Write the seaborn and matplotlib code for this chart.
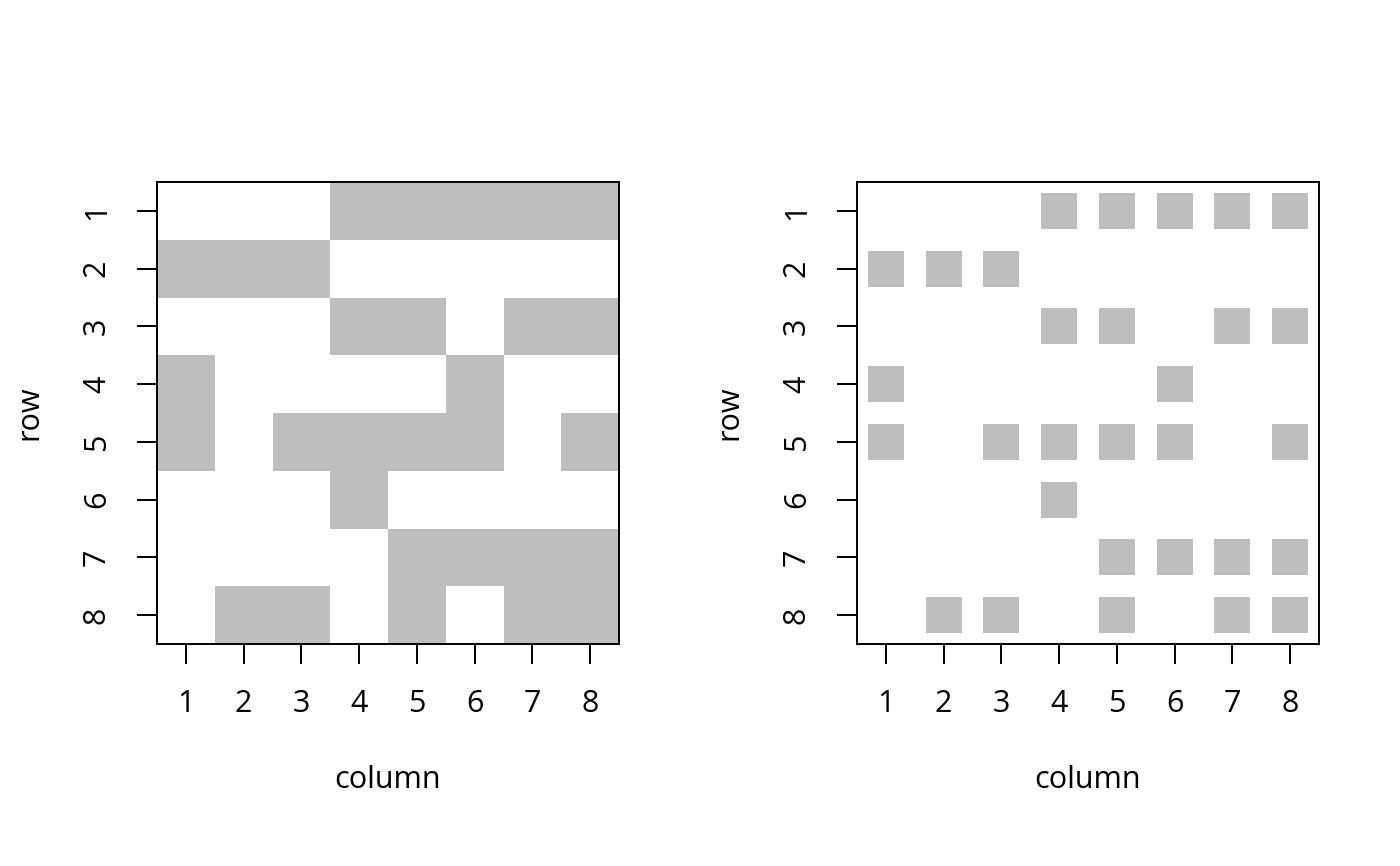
import numpy as np
import pandas as pd
import matplotlib
matplotlib.use("Agg")
import matplotlib.pyplot as plt
from matplotlib.colors import ListedColormap
import seaborn as sns

# 8x8 binary matrix, row 1 at the top
rows = [1, 2, 3, 4, 5, 6, 7, 8]
cols = [1, 2, 3, 4, 5, 6, 7, 8]
row1 = [0, 0, 0, 1, 1, 1, 1, 1]
row2 = [1, 1, 1, 0, 0, 0, 0, 0]
row3 = [0, 0, 0, 1, 1, 0, 1, 1]
row4 = [1, 0, 0, 0, 0, 1, 0, 0]
row5 = [1, 0, 1, 1, 1, 1, 0, 1]
row6 = [0, 0, 0, 1, 0, 0, 0, 0]
row7 = [0, 0, 0, 0, 1, 1, 1, 1]
row8 = [0, 1, 1, 0, 1, 0, 1, 1]

mat = pd.DataFrame([row1, row2, row3, row4, row5, row6, row7, row8], index=rows, columns=cols)
long = mat.stack().reset_index()
long.columns = ["row", "column", "val"]
pts = long[long.val == 1]

GRAY = "#BEBEBE"
sns.set_style("white")
plt.rcParams["font.family"] = ["Open Sans", "DejaVu Sans"]
plt.rcParams["text.color"] = "black"
plt.rcParams["axes.labelcolor"] = "black"
FS = 22

fig = plt.figure(figsize=(14, 8.66), dpi=100)
W, H = 1400, 866
ax1 = fig.add_axes([157 / W, (H - 644) / H, 462 / W, 462 / H])
ax2 = fig.add_axes([857 / W, (H - 644) / H, 462 / W, 462 / H])

# left: filled cells
sns.heatmap(mat, ax=ax1, cmap=ListedColormap(["white", GRAY]), cbar=False,
            linewidths=0, vmin=0, vmax=1)
ax1.set_xlim(0, 8)
ax1.set_ylim(8, 0)
ax1.set_xticks(np.arange(8) + 0.5)
ax1.set_yticks(np.arange(8) + 0.5)
ax1.set_xticklabels(cols)
ax1.set_yticklabels(rows, rotation=90, va="center")

# right: square points
sns.scatterplot(data=pts, x="column", y="row", ax=ax2, marker="s", s=36 * 0.72 * 36 * 0.72,
                color=GRAY, linewidth=0)
ax2.set_xlim(0.5, 8.5)
ax2.set_ylim(8.5, 0.5)
ax2.set_xticks(cols)
ax2.set_yticks(rows)
ax2.set_xticklabels(cols)
ax2.set_yticklabels(rows, rotation=90, va="center")

for ax in (ax1, ax2):
    for sp in ax.spines.values():
        sp.set_visible(True)
        sp.set_color("black")
        sp.set_linewidth(1.4)
    ax.tick_params(axis="both", which="major", direction="out", length=14.4, width=1.4,
                   color="black", labelcolor="black", labelsize=FS, pad=18, left=True,
                   bottom=True, top=False, right=False)
    ax.set_xlabel("column", fontsize=FS, labelpad=33, color="black")
    ax.set_ylabel("row", fontsize=FS, labelpad=27, color="black")

fig.savefig("out.png", dpi=100, facecolor="white")
